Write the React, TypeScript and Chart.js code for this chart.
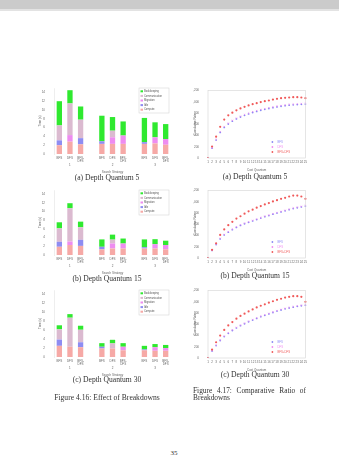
import React, { useEffect, useRef } from "react";
import { Chart, registerables } from "chart.js";
Chart.register(...registerables);

const FONT = "Liberation Sans";
const SERIF = "Liberation Serif";

// ---------- stacked bar charts (left column) ----------
const barCategories = ["BFS", "DFS", ["BFS-", "DFS"], "", "BFS", "DFS", ["BFS-", "DFS"], "", "BFS", "DFS", ["BFS-", "DFS"]];
const groupLabels = ["", "1", "", "", "", "2", "", "", "", "3", ""];
const stackNames = ["Compute", "Idle", "Migration", "Communication", "Bookkeeping"];
const stackColors = ["#f6a9a6", "#8e8cf2", "#ee8cf0", "#dbbad0", "#2fe92f"];
const barYTicks = [0, 15, 1];

const computeA = [2.0, 2.8, 2.2, null, 2.3, 2.3, 2.3, null, 2.3, 2.4, 2.1];
const idleA = [1.1, 0, 1.4, null, 0.6, 0, 0, null, 0.4, 0, 0];
const migrationA = [0, 1.5, 0, null, 0, 1.5, 1.9, null, 0, 1.4, 1.3];
const commA = [3.4, 7.2, 4.2, null, 0, 1.5, 0, null, 0, 0, 0];
const bookA = [5.5, 3.0, 3.0, null, 5.8, 3.1, 3.2, null, 5.5, 3.4, 3.4];

const computeB = [1.9, 2.3, 2.1, null, 1.3, 1.5, 1.5, null, 1.5, 1.5, 1.3];
const idleB = [1.15, 0, 1.4, null, 0.6, 0, 0, null, 0.3, 0, 0];
const migrationB = [0, 0.8, 0, null, 0, 1.15, 1.15, null, 0, 1.0, 1.0];
const commB = [3.1, 7.7, 2.9, null, 0, 0.9, 0, null, 0, 0, 0];
const bookB = [1.4, 1.15, 1.3, null, 1.7, 1.15, 1.15, null, 1.8, 1.15, 1.0];

const computeC = [2.5, 2.3, 2.2, null, 1.9, 1.9, 1.5, null, 1.5, 1.4, 1.4];
const idleC = [1.4, 0, 1.1, null, 0.4, 0, 0, null, 0.2, 0, 0];
const migrationC = [0, 0, 0, null, 0, 0, 0.8, null, 0, 0.8, 0.6];
const commC = [2.3, 6.5, 2.8, null, 0, 1.15, 0, null, 0, 0, 0];
const bookC = [0.9, 0.8, 0.9, null, 0.8, 0.8, 0.8, null, 0.8, 0.7, 0.7];

// ---------- cumulative point charts (right column) ----------
const costQuanta = ["1", "2", "3", "4", "5", "6", "7", "8", "9", "10", "11", "12", "13", "14", "15", "16", "17", "18", "19", "20", "21", "22", "23", "24", "25"];
const seriesNames = ["BFS", "DFS", "BFS+DFS"];
const seriesColors = ["#8a8af5", "#f08af0", "#f05a5a"];
const rateYTicks = [0, 1200, 100];

const bfs1 = [0, 175, 320, 455, 545, 605, 655, 695, 730, 760, 785, 810, 830, 850, 866, 881, 896, 910, 921, 931, 940, 946, 951, 956, 960];
const dfs1 = [0, 180, 330, 470, 560, 620, 670, 710, 745, 775, 800, 825, 845, 865, 880, 895, 910, 925, 935, 945, 955, 960, 965, 970, 975];
const hyb1 = [0, 205, 380, 555, 685, 760, 807, 848, 883, 912, 936, 959, 977, 995, 1012, 1024, 1041, 1053, 1065, 1071, 1077, 1083, 1083, 1077, 1065];

const bfs2 = [0, 135, 240, 340, 410, 460, 505, 545, 580, 610, 635, 660, 685, 710, 735, 755, 780, 800, 820, 840, 860, 880, 895, 910, 925];
const dfs2 = [0, 140, 250, 350, 420, 470, 515, 555, 590, 620, 645, 670, 695, 720, 745, 765, 790, 810, 830, 850, 870, 890, 905, 920, 935];
const hyb2 = [0, 146, 263, 410, 509, 585, 644, 702, 743, 790, 831, 860, 896, 925, 954, 978, 1007, 1030, 1054, 1071, 1095, 1112, 1112, 1095, 1054];

const bfs3 = [0, 125, 222, 312, 382, 440, 490, 535, 575, 610, 645, 675, 705, 735, 760, 785, 810, 835, 855, 875, 890, 905, 920, 930, 940];
const dfs3 = [0, 130, 230, 320, 390, 450, 500, 545, 585, 620, 655, 685, 715, 745, 770, 795, 820, 845, 865, 885, 900, 915, 930, 940, 950];
const hyb3 = [0, 150, 280, 400, 500, 580, 640, 700, 750, 790, 830, 865, 900, 930, 955, 985, 1010, 1035, 1055, 1075, 1090, 1100, 1100, 1090, 1000];

// ---------- plugins ----------
const boxLegend = {
  id: "boxLegend",
  afterDraw(chart: any, _args: any, opts: any) {
    if (!opts || !opts.display) return;
    const ctx = chart.ctx;
    const ca = chart.chartArea;
    let items = chart.data.datasets.map((d: any) => ({ label: d.label, color: d.legendColor }));
    if (opts.reverse) items = items.slice().reverse();
    const h = items.length * opts.lineH + 2 * opts.pad;
    const x = ca.right - opts.width - opts.marginRight;
    const y = opts.corner === "top" ? ca.top + opts.marginTop : ca.bottom - h - opts.marginBottom;
    ctx.save();
    ctx.fillStyle = "#ffffff";
    ctx.fillRect(x, y, opts.width, h);
    if (opts.border) {
      ctx.strokeStyle = opts.border;
      ctx.lineWidth = 0.5;
      ctx.strokeRect(x, y, opts.width, h);
    }
    ctx.font = `${opts.fontSize}px ${FONT}`;
    ctx.textBaseline = "middle";
    items.forEach((it: any, i: number) => {
      const cy = y + opts.pad + opts.lineH * (i + 0.5);
      ctx.fillStyle = it.color;
      if (opts.marker === "square") ctx.fillRect(x + 1.5, cy - 1, 2.5, 2);
      else {
        ctx.beginPath();
        ctx.arc(x + 2, cy, 0.9, 0, Math.PI * 2);
        ctx.fill();
      }
      ctx.fillStyle = opts.colorText ? it.color : "#555";
      ctx.fillText(it.label, x + opts.textX, cy);
    });
    ctx.restore();
  },
};

const frame = {
  id: "frame",
  afterDraw(chart: any) {
    const ca = chart.chartArea;
    const ctx = chart.ctx;
    ctx.save();
    ctx.strokeStyle = "#d4d4d4";
    ctx.lineWidth = 0.6;
    ctx.strokeRect(ca.left, ca.top, ca.right - ca.left, ca.bottom - ca.top);
    ctx.restore();
  },
};

const tickFont = { size: 3, family: FONT };

function barConfig(series: (number | null)[][]) {
  return {
    type: "bar",
    data: {
      labels: barCategories,
      datasets: stackNames.map((n, i) => ({
        label: n,
        data: series[i],
        backgroundColor: stackColors[i],
        legendColor: stackColors[i],
        borderWidth: 0,
        barPercentage: 0.5,
        categoryPercentage: 1,
        stack: "s",
        xAxisID: "x",
      })),
    },
    options: {
      animation: false,
      responsive: true,
      maintainAspectRatio: false,
      layout: { padding: { top: 4, right: 3, left: 0, bottom: 0 } },
      plugins: {
        legend: { display: false },
        tooltip: { enabled: false },
        boxLegend: { display: true, reverse: true, corner: "top", width: 30, lineH: 4.6, pad: 1, marginRight: 2, marginTop: 0, fontSize: 2.6, textX: 5, border: "#cfcfcf", marker: "square" },
      },
      scales: {
        x: {
          stacked: true,
          weight: 0,
          grid: { display: false, drawTicks: false },
          border: { display: false },
          ticks: { font: tickFont, color: "#666", padding: 2, maxRotation: 0, autoSkip: false },
          afterFit: (s: any) => { s.height = 9; },
        },
        x2: {
          type: "category",
          labels: groupLabels,
          position: "bottom",
          weight: 1,
          grid: { display: false, drawTicks: false },
          border: { display: false },
          ticks: { font: tickFont, color: "#666", padding: 0, maxRotation: 0, autoSkip: false },
          title: { display: true, text: "Search Strategy", font: tickFont, color: "#666", padding: 0 },
          afterFit: (s: any) => { s.height = 11; },
        },
        y: {
          stacked: true,
          min: barYTicks[0],
          max: barYTicks[1],
          grid: { display: false },
          border: { display: true, color: "#dddddd", width: 0.5 },
          ticks: { stepSize: barYTicks[2], font: tickFont, color: "#666", padding: 1 },
          title: { display: true, text: "Time (s)", font: tickFont, color: "#666", padding: 0 },
          afterFit: (s: any) => { s.width = 16; },
        },
      },
    },
    plugins: [boxLegend],
  };
}

function rateConfig(series: number[][]) {
  return {
    type: "line",
    data: {
      labels: costQuanta,
      datasets: seriesNames.map((n, i) => ({
        label: n,
        data: series[i],
        showLine: false,
        legendColor: seriesColors[i],
        pointRadius: i === 2 ? 1.1 : 0.9,
        pointStyle: i === 1 ? "crossRot" : "circle",
        pointBackgroundColor: seriesColors[i],
        pointBorderColor: seriesColors[i],
        pointBorderWidth: i === 1 ? 0.6 : 0,
        borderColor: seriesColors[i],
        order: 3 - i,
      })),
    },
    options: {
      animation: false,
      responsive: true,
      maintainAspectRatio: false,
      layout: { padding: { top: 4, right: 3, left: 0, bottom: 0 } },
      plugins: {
        legend: { display: false },
        tooltip: { enabled: false },
        boxLegend: { display: true, reverse: false, corner: "bottom", width: 26, lineH: 5, pad: 0.5, marginRight: 9, marginBottom: 3, fontSize: 2.8, textX: 7, border: null, marker: "circle", colorText: true },
      },
      scales: {
        x: {
          grid: { display: false, drawTicks: false },
          border: { display: false },
          offset: false,
          ticks: { font: tickFont, color: "#666", padding: 2, maxRotation: 0, autoSkip: false },
          title: { display: true, text: "Cost Quantum", font: tickFont, color: "#666", padding: 0 },
          afterFit: (s: any) => { s.height = 14; },
        },
        y: {
          min: rateYTicks[0],
          max: rateYTicks[1],
          grid: { display: false },
          border: { display: false },
          ticks: { stepSize: rateYTicks[2], font: tickFont, color: "#666", padding: 1 },
          title: { display: true, text: "Cumulative Rate", font: tickFont, color: "#666", padding: 0 },
          afterFit: (s: any) => { s.width = 15; },
        },
      },
    },
    plugins: [frame, boxLegend],
  };
}

function ChartBox({ config, left, top, width, height }: any) {
  const ref = useRef<HTMLCanvasElement | null>(null);
  useEffect(() => {
    const c = new Chart(ref.current as any, config as any);
    return () => c.destroy();
  }, []);
  return (
    <div style={{ position: "absolute", left, top, width, height }}>
      <canvas ref={ref} style={{ display: "block" }} />
    </div>
  );
}

function Caption({ text, cx, top }: any) {
  return (
    <div style={{ position: "absolute", left: cx - 60, top, width: 120, textAlign: "center", fontFamily: SERIF, fontSize: 7.6, lineHeight: "8px", color: "#333", whiteSpace: "nowrap" }}>
      {text}
    </div>
  );
}

export default function App() {
  return (
    <div style={{ position: "absolute", left: 0, top: 0, width: 339, height: 475, background: "#fff", overflow: "hidden", filter: "blur(0.45px)" }}>
      <div style={{ position: "absolute", left: 0, top: 0, width: 339, height: 9, background: "#cbcbcb" }} />
      <div style={{ position: "absolute", left: 0, top: 9, width: 339, height: 2, background: "#e3e3e3" }} />

      <ChartBox config={barConfig([computeA, idleA, migrationA, commA, bookA])} left={38} top={84} width={136} height={90} />
      <ChartBox config={barConfig([computeB, idleB, migrationB, commB, bookB])} left={38} top={186} width={136} height={89} />
      <ChartBox config={barConfig([computeC, idleC, migrationC, commC, bookC])} left={38} top={286} width={136} height={91} />

      <ChartBox config={rateConfig([bfs1, dfs1, hyb1])} left={193} top={86} width={117} height={86} />
      <ChartBox config={rateConfig([bfs2, dfs2, hyb2])} left={193} top={186} width={117} height={86} />
      <ChartBox config={rateConfig([bfs3, dfs3, hyb3])} left={193} top={286} width={117} height={86} />

      <Caption text="(a) Depth Quantum 5" cx={107} top={174} />
      <Caption text="(b) Depth Quantum 15" cx={107} top={275} />
      <Caption text="(c) Depth Quantum 30" cx={107} top={376} />
      <Caption text="(a) Depth Quantum 5" cx={255} top={173} />
      <Caption text="(b) Depth Quantum 15" cx={255} top={272} />
      <Caption text="(c) Depth Quantum 30" cx={255} top={371} />

      <div style={{ position: "absolute", left: 48, top: 394, width: 118, textAlign: "center", fontFamily: SERIF, fontSize: 7.6, lineHeight: "8px", color: "#333", whiteSpace: "nowrap" }}>
        Figure 4.16: Effect of Breakdowns
      </div>
      <div style={{ position: "absolute", left: 193, top: 387, width: 113, fontFamily: SERIF, fontSize: 7.4, lineHeight: "7px", color: "#333", textAlign: "justify", textAlignLast: "left" as any }}>
        Figure 4.17: Comparative Ratio of Breakdowns
      </div>
      <div style={{ position: "absolute", left: 164, top: 449, width: 20, textAlign: "center", fontFamily: SERIF, fontSize: 7, color: "#333" }}>
        35
      </div>
    </div>
  );
}
